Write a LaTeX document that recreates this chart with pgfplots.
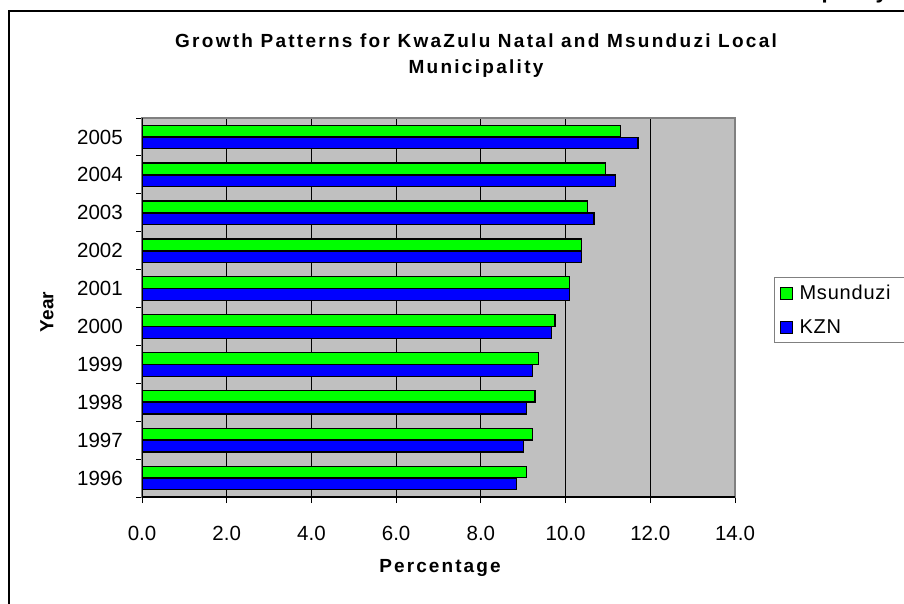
\documentclass[border=0pt]{standalone}
\usepackage{pgfplots}
\pgfplotsset{compat=1.18}
\usepackage{fontspec}
\setmainfont{Liberation Sans}
\definecolor{plotgray}{RGB}{192,192,192}
\definecolor{msgreen}{RGB}{0,255,0}
\definecolor{kznblue}{RGB}{0,0,255}
\definecolor{bordergray}{RGB}{128,128,128}
\pgfplotstableread{
y msunduzi kzn
1 9.08 8.85
2 9.22 9.00
3 9.28 9.08
4 9.37 9.22
5 9.75 9.66
6 10.09 10.10
7 10.37 10.37
8 10.51 10.67
9 10.94 11.18
10 11.29 11.71
}\growthdata
\begin{document}
\begin{tikzpicture}[x=1pt,y=1pt]
\useasboundingbox (0,0) rectangle (904,603);
\clip (0,0) rectangle (904,603);
\draw[line width=2pt] (9,-20) -- (9,592) -- (930,592);
\node[anchor=base east, inner sep=0pt, font=\fontsize{22}{26}\selectfont\bfseries\addfontfeatures{LetterSpace=8}] at (888,604) {Figure 4: Growth Patterns for KwaZulu Natal and Msunduzi Local Municipality};
\node[align=center, inner sep=0pt, font=\fontsize{19}{26}\selectfont\bfseries\addfontfeatures{LetterSpace=12}] at (476,547) {Growth Patterns for KwaZulu Natal and Msunduzi Local\\Municipality};
\begin{axis}[
  at={(142pt,106pt)}, anchor=south west,
  width=593pt, height=379pt, scale only axis,
  xbar, bar width=11.5pt,
  xmin=0, xmax=14, ymin=0.5, ymax=10.5,
  xtick={0,2,...,14},
  xtick pos=bottom, ytick pos=left,
  tick align=outside,
  major tick length=6pt, minor tick length=6pt,
  tick style={black, line width=0.8pt},
  ytick={1,...,10},
  yticklabels={1996,1997,1998,1999,2000,2001,2002,2003,2004,2005},
  major y tick style={draw=none},
  minor ytick={0.5,1.5,...,10.5},
  xmajorgrids, grid style={black, line width=0.8pt},
  axis line style={bordergray, line width=1.2pt},
  axis background/.style={fill=plotgray},
  /pgf/number format/.cd, fixed, fixed zerofill, precision=1, assume math mode=true,
  /pgfplots/.cd,
  ticklabel style={font=\fontsize{20.5}{23}\selectfont},
  xticklabel style={anchor=center, yshift=-30pt},
  yticklabel style={anchor=east, inner sep=0pt, xshift=-13pt},
  xlabel={Percentage}, ylabel={Year},
  xlabel style={font=\fontsize{19}{22}\selectfont\bfseries\addfontfeatures{LetterSpace=11}, at={(axis description cs:0.5025,-0.1873)}, anchor=center},
  ylabel style={font=\fontsize{19}{22}\selectfont\bfseries, at={(axis description cs:-0.1602,0.488)}, anchor=center},
  legend style={at={(axis description cs:1.0658,0.5805)}, anchor=north west,
    draw=bordergray, line width=0.8pt, font=\fontsize{20}{22}\selectfont\addfontfeatures{LetterSpace=4},
    row sep=14pt, inner xsep=6pt, inner ysep=6pt},
  legend cell align=left,
  legend image code/.code={\draw[#1, line width=1pt] (0pt,-6pt) rectangle (12pt,6pt); \path (16pt,0pt);},
]
\addplot[fill=msgreen, draw=black, line width=1.2pt, bar shift=6pt] table[x=msunduzi, y=y] {\growthdata};
\addplot[fill=kznblue, draw=black, line width=1.2pt, bar shift=-6pt] table[x=kzn, y=y] {\growthdata};
\legend{Msunduzi\hspace*{22pt}, KZN}
\draw[black, line width=1.2pt] (axis cs:0,10.5) -- (axis cs:0,0.5) -- (axis cs:14,0.5);
\end{axis}
\end{tikzpicture}
\end{document}
